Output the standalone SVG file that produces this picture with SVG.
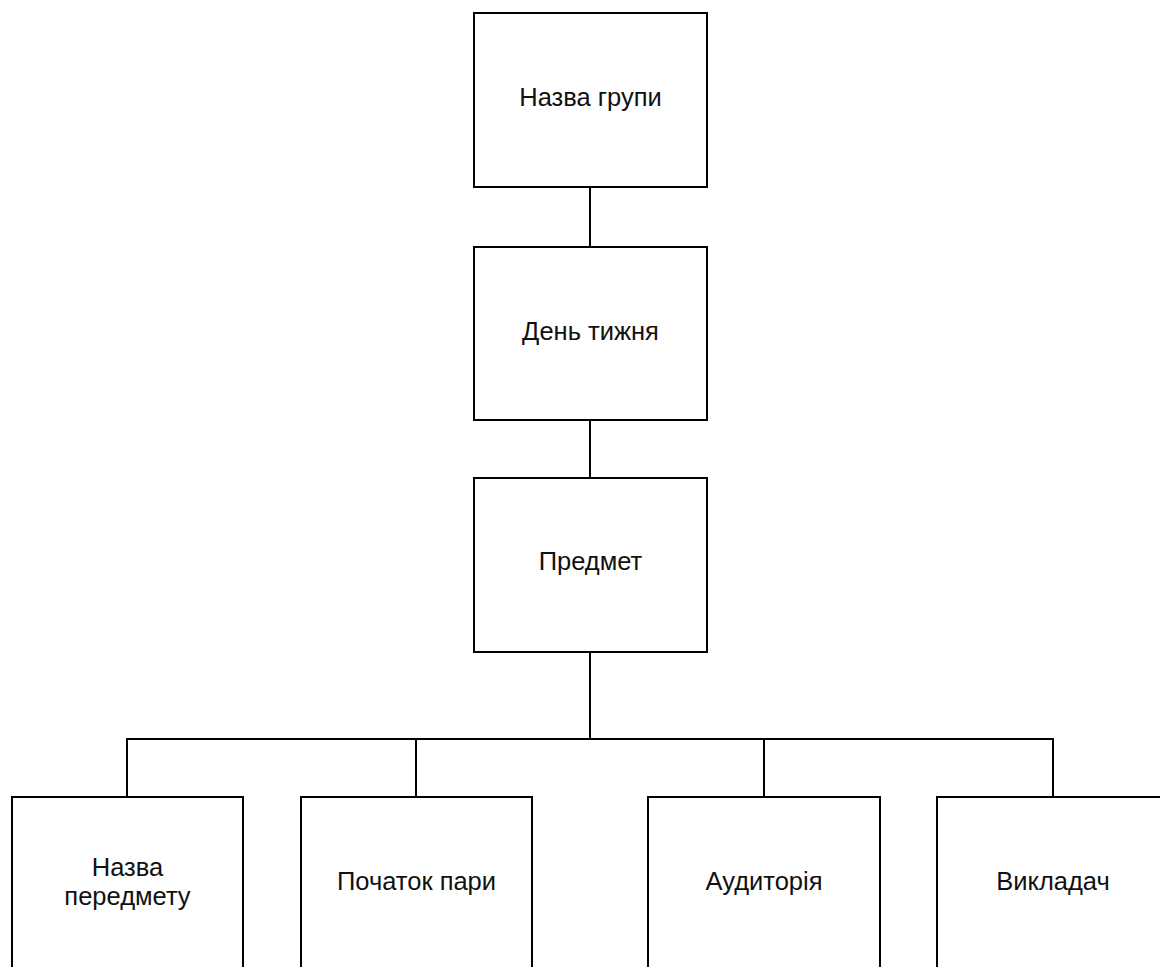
<svg xmlns="http://www.w3.org/2000/svg" width="1160" height="967" viewBox="0 0 1160 967">
  <style>
    .box { fill: #ffffff; stroke: #000000; stroke-width: 2; }
    .link { fill: none; stroke: #000000; stroke-width: 2; }
    .label { font-family: "Liberation Sans", Arial, sans-serif; font-size: 25.5px; fill: #111111; text-anchor: middle; dominant-baseline: central; }
  </style>
  <rect width="1160" height="967" fill="#ffffff"/>

  <!-- connectors -->
  <g id="connectors">
    <line class="link" x1="590" y1="187" x2="590" y2="247"/>
    <line class="link" x1="590" y1="420" x2="590" y2="478"/>
    <line class="link" x1="590" y1="652" x2="590" y2="739"/>
    <polyline class="link" points="127,797 127,739 1053,739 1053,797"/>
    <line class="link" x1="416" y1="739" x2="416" y2="797"/>
    <line class="link" x1="764" y1="739" x2="764" y2="797"/>
  </g>

  <g id="group-name">
    <rect class="box" x="474" y="13" width="233" height="174"/>
    <text class="label" x="590.5" y="97">Назва групи</text>
  </g>

  <g id="weekday">
    <rect class="box" x="474" y="247" width="233" height="173"/>
    <text class="label" x="590.5" y="330.5">День тижня</text>
  </g>

  <g id="subject">
    <rect class="box" x="474" y="478" width="233" height="174"/>
    <text class="label" x="590.5" y="561">Предмет</text>
  </g>

  <g id="subject-name">
    <rect class="box" x="12" y="797" width="231" height="174"/>
    <text class="label" x="127.5" y="866.5">Назва</text>
    <text class="label" x="127.5" y="896">передмету</text>
  </g>

  <g id="start-time">
    <rect class="box" x="301" y="797" width="231" height="174"/>
    <text class="label" x="416.5" y="881">Початок пари</text>
  </g>

  <g id="room">
    <rect class="box" x="648" y="797" width="232" height="174"/>
    <text class="label" x="764" y="881">Аудиторія</text>
  </g>

  <g id="teacher">
    <rect class="box" x="937" y="797" width="232" height="174"/>
    <text class="label" x="1053" y="881">Викладач</text>
  </g>
</svg>
